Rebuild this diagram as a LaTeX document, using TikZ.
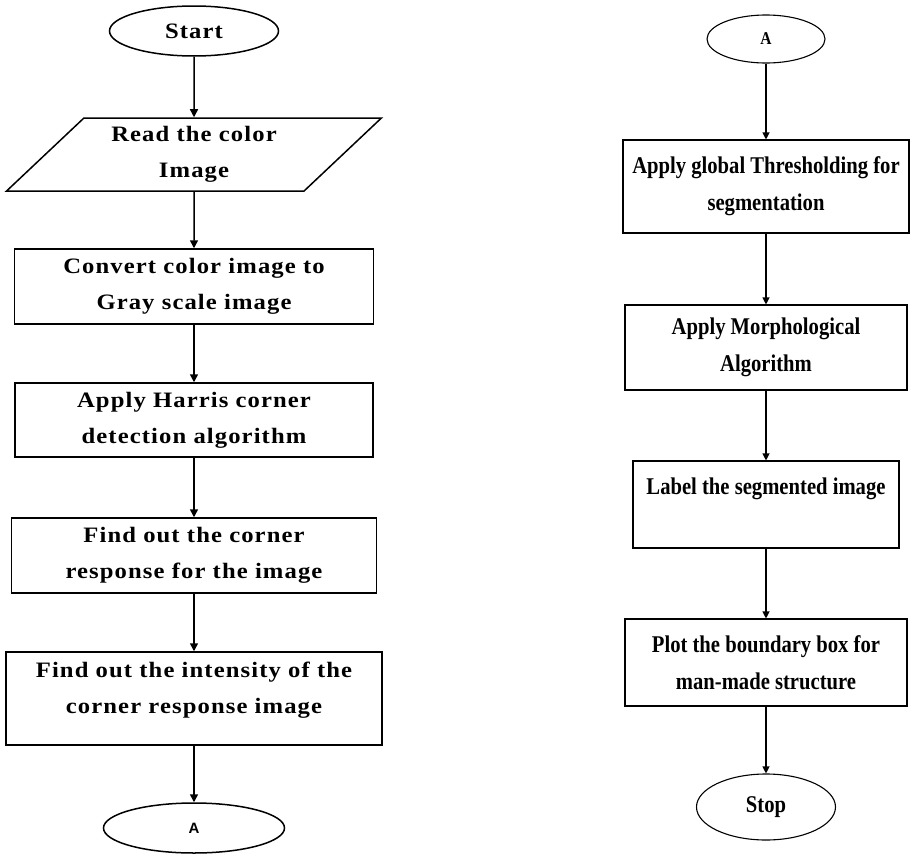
\documentclass[tikz,border=0pt]{standalone}
\usepackage{fontspec}
\usepackage{tikz}
\usetikzlibrary{shapes.geometric,arrows.meta}
\newfontfamily\lfont{Liberation Serif}[FakeStretch=1.12,LetterSpace=5]
\newfontfamily\rfont{Liberation Serif}[FakeStretch=0.86]
\newfontfamily\afont{Liberation Sans}

\tikzset{
  lstep/.style={draw, line width=1.5pt, inner sep=0pt, align=center,
    font=\lfont\bfseries\fontsize{22}{36}\selectfont},
  rstep/.style={draw, line width=1.1pt, inner sep=0pt, align=center,
    font=\rfont\bfseries\fontsize{24}{37}\selectfont},
  larr/.style={line width=1.5pt, -{Triangle[length=8pt,width=8pt]}},
  rarr/.style={line width=1.1pt, -{Triangle[length=7pt,width=7pt]}},
}

\begin{document}
\begin{tikzpicture}[x=1pt,y=-1pt]
    \useasboundingbox (0,0) rectangle (911,854);

    \node[lstep, ellipse, minimum width=169pt, minimum height=50pt] (start) at (194,31) {Start};
    \node[lstep, trapezium, trapezium left angle=44, trapezium right angle=136, trapezium stretches=true,
      minimum width=376pt, minimum height=73pt] (read) at (194,154.5) {Read the color\\Image};
    \node[lstep, minimum width=359pt, minimum height=75pt] (conv) at (194,286.5) {Convert color image to\\Gray scale image};
    \node[lstep, minimum width=358pt, minimum height=74pt] (harris) at (194,420) {Apply Harris corner\\detection algorithm};
    \node[lstep, minimum width=365pt, minimum height=75pt] (resp) at (194,555.5) {Find out the corner\\response for the image};
    \node[lstep, minimum width=376pt, minimum height=93pt] (inten) at (194,698.5) {Find out the intensity of the\\corner response image\\[-14pt]\mbox{}};
    \node[lstep, ellipse, minimum width=181pt, minimum height=50pt, font=\afont\bfseries\fontsize{15}{17}\selectfont] (aL) at (194,828) {A};

    \node[rstep, ellipse, minimum width=118pt, minimum height=48pt, font=\rfont\bfseries\fontsize{18}{20}\selectfont] (aR) at (766,39) {A};
    \node[rstep, minimum width=286pt, minimum height=93pt] (thr) at (766,186.5) {Apply global Thresholding for\\segmentation};
    \node[rstep, minimum width=282pt, minimum height=85pt] (morph) at (766,347.5) {Apply Morphological\\Algorithm};
    \node[rstep, minimum width=266pt, minimum height=87pt] (lab) at (766,504.5) {Label the segmented image\\\mbox{}};
    \node[rstep, minimum width=282pt, minimum height=87pt] (plot) at (766,662.5) {Plot the boundary box for\\man-made structure};
    \node[rstep, ellipse, minimum width=139pt, minimum height=66pt] (stop) at (766,807) {Stop};

    \draw[larr] (start) -- (read);
    \draw[larr] (read) -- (conv);
    \draw[larr] (conv) -- (harris);
    \draw[larr] (harris) -- (resp);
    \draw[larr] (resp) -- (inten);
    \draw[larr] (inten) -- (aL);

    \draw[rarr] (aR) -- (thr);
    \draw[rarr] (thr) -- (morph);
    \draw[rarr] (morph) -- (lab);
    \draw[rarr] (lab) -- (plot);
    \draw[rarr] (plot) -- (stop);
\end{tikzpicture}
\end{document}
